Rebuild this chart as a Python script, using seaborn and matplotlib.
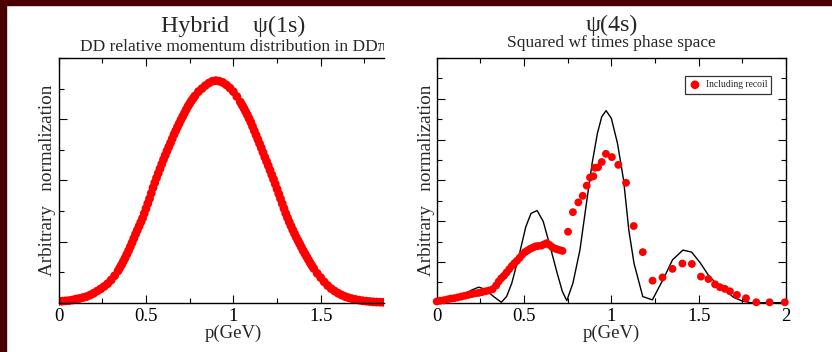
import numpy as np
import pandas as pd
import matplotlib
matplotlib.use("Agg")
import matplotlib.pyplot as plt
import seaborn as sns
from matplotlib.ticker import MultipleLocator, FixedLocator, FixedFormatter
from matplotlib.transforms import Bbox, TransformedBbox
from matplotlib.patches import Rectangle

# ---------------- data ----------------
# Left panel: Hybrid psi(1s), DD relative momentum distribution
p_1s = [0.00, 0.02, 0.04, 0.06, 0.08, 0.10, 0.12, 0.14, 0.16, 0.18, 0.20, 0.22, 0.24, 0.26, 0.28, 0.30, 0.32, 0.34,
        0.35, 0.36, 0.37, 0.38, 0.39, 0.40, 0.41, 0.42, 0.43, 0.44, 0.45, 0.46, 0.47, 0.48, 0.49, 0.50, 0.51, 0.52,
        0.53, 0.54, 0.55, 0.56, 0.57, 0.58, 0.59, 0.60, 0.61, 0.62, 0.63, 0.64, 0.65, 0.66, 0.67, 0.68, 0.69, 0.70,
        0.71, 0.72, 0.73, 0.74, 0.75, 0.76, 0.77,
        0.78, 0.80, 0.82, 0.84, 0.86, 0.88, 0.90, 0.92, 0.94, 0.96, 0.98, 1.00, 1.02, 1.04,
        1.05, 1.06, 1.07, 1.08, 1.09, 1.10, 1.11, 1.12, 1.13, 1.14, 1.15, 1.16, 1.17, 1.18, 1.19, 1.20, 1.21, 1.22,
        1.23, 1.24, 1.25, 1.26, 1.27, 1.28, 1.29, 1.30, 1.31, 1.32, 1.33, 1.34, 1.35, 1.36, 1.37, 1.38, 1.39, 1.40,
        1.41, 1.42, 1.43, 1.44, 1.45,
        1.46, 1.48, 1.50, 1.52, 1.54, 1.56, 1.58, 1.60, 1.62, 1.64, 1.66, 1.68, 1.70, 1.72, 1.74, 1.76, 1.78, 1.80,
        1.82, 1.84, 1.86]
v_1s = [0.02, 0.025, 0.03, 0.035, 0.045, 0.06, 0.07, 0.085, 0.10, 0.125, 0.155, 0.19, 0.225, 0.265, 0.31, 0.37, 0.44, 0.52,
        0.57, 0.62, 0.675, 0.73, 0.79, 0.85, 0.915, 0.98, 1.05, 1.12, 1.185, 1.25, 1.315, 1.38, 1.46, 1.54, 1.62, 1.70,
        1.79, 1.88, 1.96, 2.04, 2.115, 2.19, 2.265, 2.34, 2.41, 2.48, 2.545, 2.61, 2.68, 2.75, 2.81, 2.87, 2.93, 2.99,
        3.045, 3.10, 3.155, 3.21, 3.255, 3.30, 3.34,
        3.38, 3.45, 3.50, 3.55, 3.59, 3.62, 3.63, 3.62, 3.60, 3.56, 3.51, 3.45, 3.37, 3.28,
        3.23, 3.18, 3.125, 3.07, 3.01, 2.95, 2.88, 2.81, 2.74, 2.67, 2.60, 2.53, 2.455, 2.38, 2.31, 2.24, 2.165, 2.09,
        2.015, 1.94, 1.86, 1.78, 1.70, 1.62, 1.54, 1.46, 1.39, 1.32, 1.255, 1.19, 1.13, 1.07, 1.015, 0.96, 0.905, 0.85,
        0.80, 0.75, 0.70, 0.65, 0.605,
        0.56, 0.48, 0.41, 0.34, 0.28, 0.23, 0.19, 0.155, 0.125, 0.10, 0.08, 0.065, 0.052, 0.042, 0.032, 0.025, 0.019, 0.014,
        0.010, 0.008, 0.006]

# Right panel: psi(4s), squared wf times phase space (black line)
p_wf = [0.00, 0.05, 0.10, 0.15, 0.20, 0.24, 0.28, 0.32, 0.37, 0.40, 0.43, 0.47, 0.51, 0.54, 0.575, 0.61, 0.65, 0.69,
        0.72, 0.745, 0.78, 0.82, 0.86, 0.89, 0.92, 0.945, 0.97, 1.00, 1.035, 1.07, 1.10, 1.13, 1.18, 1.235, 1.30, 1.35,
        1.41, 1.46, 1.51, 1.555, 1.60, 1.64, 1.70, 1.75, 1.80, 1.90, 2.00]
v_wf = [0.00, 0.04, 0.10, 0.19, 0.31, 0.38, 0.33, 0.17, 0.01, 0.15, 0.48, 1.13, 1.86, 2.19, 2.26, 1.99, 1.37, 0.72,
        0.27, 0.05, 0.48, 1.29, 2.52, 3.42, 4.15, 4.56, 4.71, 4.52, 3.91, 3.01, 1.78, 0.96, 0.15, 0.07, 0.60, 1.05,
        1.29, 1.24, 0.97, 0.68, 0.47, 0.35, 0.13, 0.04, 0.0, 0.0, 0.0]

# Right panel: including recoil (red dots)
p_rec = [0.00, 0.02, 0.04, 0.06, 0.08, 0.10, 0.12, 0.14, 0.16, 0.18, 0.20, 0.22, 0.24, 0.26, 0.28, 0.30, 0.32, 0.34,
         0.355, 0.37, 0.385, 0.40, 0.415, 0.43, 0.445, 0.46, 0.475, 0.49, 0.505, 0.52, 0.535, 0.55, 0.565, 0.58,
         0.60, 0.615, 0.63, 0.645, 0.66, 0.675, 0.69, 0.705, 0.72,
         0.752, 0.78, 0.811, 0.836, 0.859, 0.878, 0.897, 0.906, 0.924, 0.945, 0.969, 1.003, 1.04, 1.084, 1.128, 1.18,
         1.236, 1.293, 1.35, 1.407, 1.461, 1.513, 1.556, 1.594, 1.622, 1.65, 1.679, 1.719, 1.771, 1.83, 1.906, 1.993]
v_rec = [0.03, 0.05, 0.06, 0.08, 0.10, 0.11, 0.13, 0.15, 0.17, 0.19, 0.21, 0.23, 0.24, 0.26, 0.28, 0.30, 0.33, 0.42,
         0.52, 0.60, 0.66, 0.74, 0.82, 0.90, 0.97, 1.03, 1.10, 1.18, 1.24, 1.28, 1.32, 1.35, 1.38, 1.39,
         1.40, 1.43, 1.46, 1.42, 1.37, 1.33, 1.31, 1.29, 1.27,
         1.74, 2.22, 2.46, 2.62, 2.87, 3.07, 3.10, 3.31, 3.32, 3.45, 3.65, 3.57, 3.38, 2.94, 1.88, 1.24,
         0.54, 0.62, 0.83, 0.96, 0.95, 0.64, 0.58, 0.45, 0.38, 0.34, 0.28, 0.19, 0.11, 0.01, 0.01, 0.01]

x_ticks = [0, 0.5, 1, 1.5, 2]
x_tick_labels = ["0", "0.5", "1", "1.5", "2"]

df_1s = pd.DataFrame({"p": p_1s, "v": v_1s})
df_wf = pd.DataFrame({"p": p_wf, "v": v_wf})
df_rec = pd.DataFrame({"p": p_rec, "v": v_rec})

# ---------------- style ----------------
sns.set_theme(style="white")
plt.rcParams["font.family"] = ["Liberation Serif", "DejaVu Serif"]

W, H = 832, 352
fig = plt.figure(figsize=(W / 100, H / 100), dpi=100, facecolor="white")


def fx(px):
    return px / W


def fy(py):
    return 1 - py / H


TOP, BOT = 58.0, 302.7
axL = fig.add_axes([fx(58.7), fy(BOT), (384 - 58.7) / W, (BOT - TOP) / H])
axR = fig.add_axes([fx(436.7), fy(BOT), (786 - 436.7) / W, (BOT - TOP) / H])

RED = "#ff0000"

# left panel
sns.scatterplot(data=df_1s, x="p", y="v", ax=axL, color=RED, s=40, linewidth=0, edgecolor="none", legend=False)
coll = axL.collections[-1]
coll.set_clip_box(TransformedBbox(Bbox([[0, -0.1], [1, 1.0]]), axL.transAxes))

# right panel
sns.lineplot(data=df_wf, x="p", y="v", ax=axR, color="black", linewidth=1.0, sort=False, estimator=None)
sns.scatterplot(data=df_rec, x="p", y="v", ax=axR, color=RED, s=32, linewidth=0, edgecolor="none",
                label="Including recoil", clip_on=False, zorder=3)

for ax, ylim in ((axL, 4), (axR, 6)):
    ax.set_facecolor("white")
    ax.set_ylim(0, ylim)
    ax.xaxis.set_major_locator(FixedLocator(x_ticks))
    ax.xaxis.set_major_formatter(FixedFormatter(x_tick_labels))
    ax.xaxis.set_minor_locator(MultipleLocator(0.25))
    ax.yaxis.set_major_locator(MultipleLocator(1))
    ax.yaxis.set_minor_locator(MultipleLocator(0.5))
    ax.tick_params(which="both", direction="in", top=True, bottom=True, left=True,
                   right=(ax is axR), labelleft=False, colors="black", width=0.8)
    ax.tick_params(which="major", length=6, labelsize=13.5, pad=3.5)
    ax.tick_params(which="minor", length=3.5)
    for s in ax.spines.values():
        s.set_color("black")
        s.set_linewidth(1.0)
    ax.set_xlabel("p(GeV)", fontsize=13.5)
    ax.set_ylabel("Arbitrary   normalization", fontsize=13.8)
    ax.grid(False)

axL.set_xlim(0, (384 - 58.7) / 174.65)
axR.set_xlim(0, 2)
axL.spines["right"].set_visible(False)

# label positions
axL.xaxis.set_label_coords((233.3 - 58.7) / (384 - 58.7), (BOT - 337.5) / (BOT - TOP))
axR.xaxis.set_label_coords(0.5, (BOT - 337.5) / (BOT - TOP))
for ax in (axL, axR):
    ax.xaxis.label.set_va("baseline")
    ax.yaxis.label.set_va("baseline")
axL.yaxis.set_label_coords((51.7 - 58.7) / (384 - 58.7), 0.5)
axR.yaxis.set_label_coords((431 - 436.7) / (786 - 436.7), 0.5)

# legend
leg = axR.legend(loc="upper right", bbox_to_anchor=(0.958, 0.9265), frameon=True, fancybox=False,
                 edgecolor="black", fontsize=6.9, borderpad=0.45, handletextpad=0.5, handlelength=1.2,
                 borderaxespad=0, markerscale=1.1)
leg.get_frame().set_linewidth(0.9)
leg.get_frame().set_facecolor("white")

# titles
clipL = TransformedBbox(Bbox([[0, 0], [384 / W, 1]]), fig.transFigure)
t1 = fig.text(fx(233.3), fy(32.0), "Hybrid    ψ(1s)", ha="center", va="baseline", fontsize=17.3)
t2 = fig.text(fx(233.3), fy(51.2), "DD relative momentum distribution in DDπ", ha="center", va="baseline",
              fontsize=12.5)
for t in (t1, t2):
    t.set_clip_box(clipL)
    t.set_clip_on(True)
fig.text(fx(611.3), fy(31.5), "ψ(4s)", ha="center", va="baseline", fontsize=17.3)
fig.text(fx(611.3), fy(47.0), "Squared wf times phase space", ha="center", va="baseline", fontsize=12.5)

# maroon frame on top and left edges
MAROON = "#4b0000"
fig.patches.append(Rectangle((0, fy(5)), 1, 5 / H, transform=fig.transFigure, color=MAROON, zorder=10))
fig.patches.append(Rectangle((0, 0), 6 / W, 1, transform=fig.transFigure, color=MAROON, zorder=10))

fig.savefig("out.png", dpi=100, facecolor="white")
